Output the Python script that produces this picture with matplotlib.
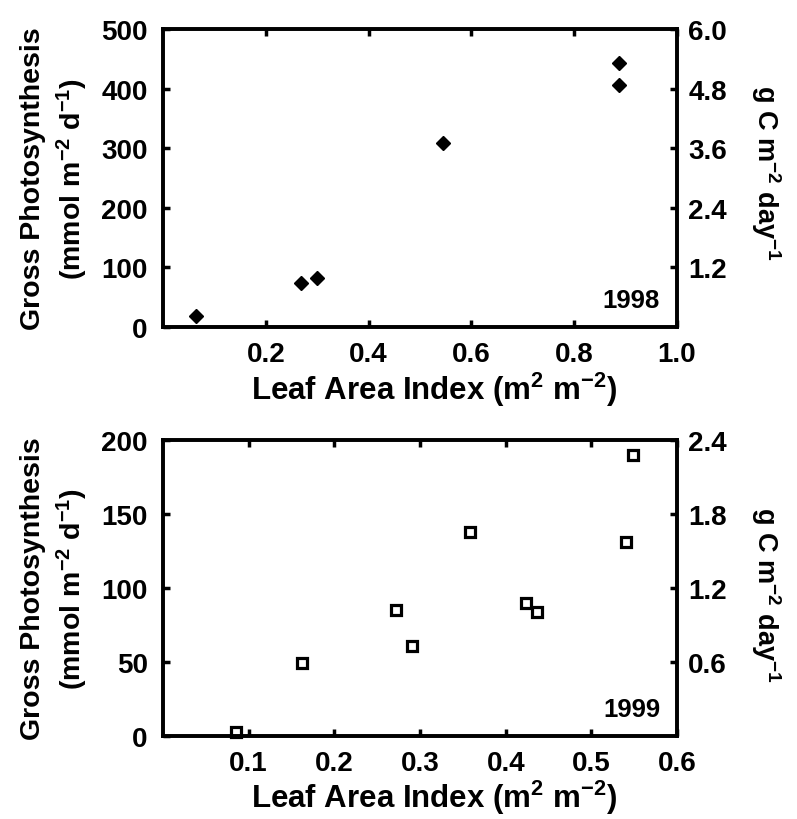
import numpy as np
import matplotlib
matplotlib.use("Agg")
import matplotlib.pyplot as plt

plt.rcParams['font.family'] = ['Liberation Sans', 'DejaVu Sans']
plt.rcParams['font.weight'] = 'bold'
plt.rcParams['axes.labelweight'] = 'bold'
plt.rcParams['mathtext.fontset'] = 'custom'
plt.rcParams['mathtext.rm'] = 'Liberation Sans:bold'
plt.rcParams['mathtext.it'] = 'Liberation Sans:bold'
plt.rcParams['mathtext.bf'] = 'Liberation Sans:bold'

# --- datos ---
lai_1998 = [0.064, 0.268, 0.300, 0.545, 0.887, 0.887]
gp_1998 = [18, 73, 82, 309, 443, 406]

lai_1999 = [0.085, 0.162, 0.272, 0.291, 0.358, 0.424, 0.436, 0.540, 0.549]
gp_1999 = [3, 49, 85, 61, 138, 90, 84, 131, 190]

x_ticks_1998 = [0.2, 0.4, 0.6, 0.8, 1.0]
y_ticks_1998 = [0, 100, 200, 300, 400, 500]
r_ticks_1998 = [1.2, 2.4, 3.6, 4.8, 6.0]

x_ticks_1999 = [0.1, 0.2, 0.3, 0.4, 0.5, 0.6]
y_ticks_1999 = [0, 50, 100, 150, 200]
r_ticks_1999 = [0.6, 1.2, 1.8, 2.4]

MMOL_A_GC = 0.012  # 12 g C / mol

FS_TICK = 20
LW = 2.6

fig = plt.figure(figsize=(7.97, 8.2), dpi=100)


def panel(rect, x, y, xlim, ylim, xt, yt, rt, year, marker, r_lab_y):
    ax = fig.add_axes(rect)
    if marker == 'D':
        ax.plot(x, y, 'D', color='black', markersize=7, linestyle='none')
    else:
        ax.plot(x, y, 's', markerfacecolor='white', markeredgecolor='black',
                markersize=7.5, markeredgewidth=2.3, linestyle='none', clip_on=False)
    ax.set_xlim(*xlim)
    ax.set_ylim(*ylim)
    ax.set_xticks(xt)
    ax.set_xticklabels([f"{v:.1f}" for v in xt])
    ax.set_yticks(yt)
    ax.tick_params(axis='both', direction='in', length=5, width=2.5, top=True,
                   labelsize=FS_TICK)
    ax.tick_params(axis='x', pad=10)
    ax.tick_params(axis='y', pad=11)
    for s in ax.spines.values():
        s.set_linewidth(LW)
    ax.set_xlabel("Leaf Area Index (m$^{2}$ m$^{-2}$)", fontsize=22.5,
                  va='center', ha='center')
    ax.xaxis.set_label_coords(0.527, -0.207)
    ax.set_ylabel("Gross Photosynthesis\n(mmol m$^{-2}$ d$^{-1}$)", fontsize=20.5,
                  linespacing=1.35, va='center', ha='center')
    ax.yaxis.set_label_coords(-0.210, 0.5)
    ax.text(0.967, 0.05, year, transform=ax.transAxes, ha='right', va='bottom',
            fontsize=18.5)

    ax2 = ax.twinx()
    ax2.set_ylim(ylim[0] * MMOL_A_GC, ylim[1] * MMOL_A_GC)
    ax2.set_yticks(rt)
    ax2.set_yticklabels([f"{v:.1f}" for v in rt])
    ax2.tick_params(direction='in', length=5, width=2.5, labelsize=FS_TICK, pad=8)
    for s in ax2.spines.values():
        s.set_linewidth(LW)
    ax2.set_ylabel("g C m$^{-2}$ day$^{-1}$", fontsize=19.5, rotation=270,
                   va='center', ha='center')
    ax2.yaxis.set_label_coords(1.172, r_lab_y)
    return ax


panel([0.2045, 0.600, 0.645, 0.3634], lai_1998, gp_1998, (0, 1.0), (0, 500),
      x_ticks_1998, y_ticks_1998, r_ticks_1998, "1998", 'D', 0.52)
panel([0.2045, 0.1012, 0.645, 0.361], lai_1999, gp_1999, (0, 0.6), (0, 200),
      x_ticks_1999, y_ticks_1999, r_ticks_1999, "1999", 's', 0.48)

fig.savefig("out.png", dpi=100)
plt.close(fig)
